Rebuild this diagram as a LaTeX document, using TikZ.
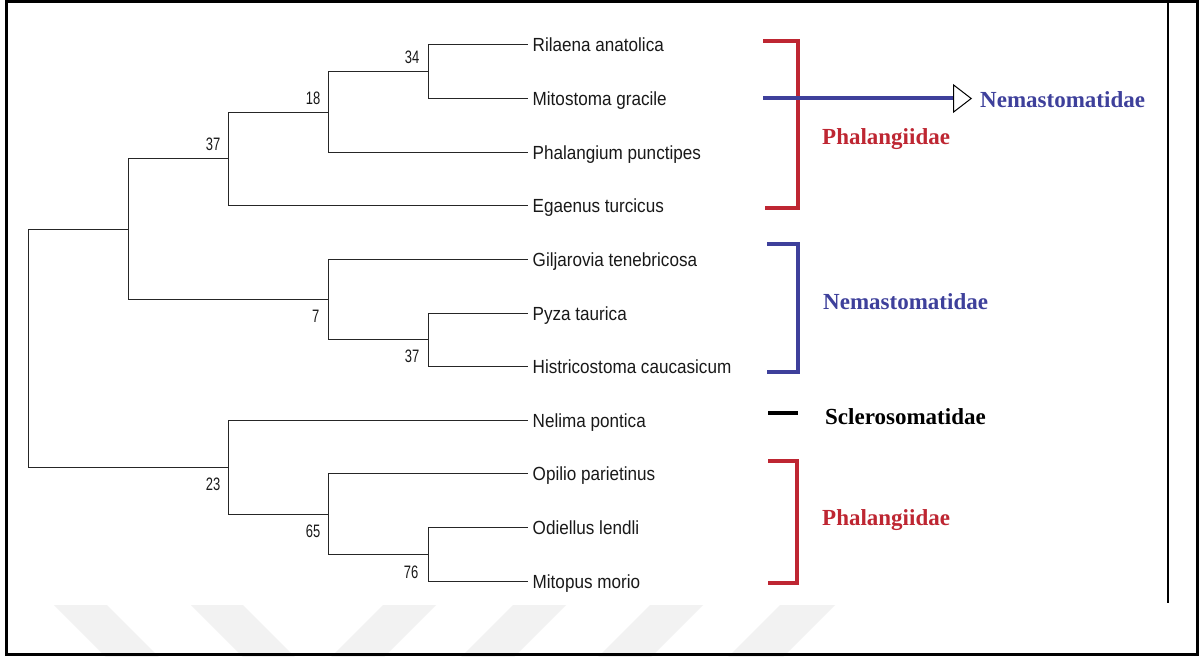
\documentclass[tikz,border=0pt]{standalone}
\usepackage{fontspec}
\setmainfont{Liberation Serif}
\newfontfamily\leaffont[FakeStretch=0.9]{Liberation Sans}
\newfontfamily\numfont[FakeStretch=0.72]{Liberation Sans}
\usetikzlibrary{arrows.meta}
\definecolor{famred}{RGB}{190,38,50}
\definecolor{famblue}{RGB}{62,64,155}
\definecolor{wmgray}{RGB}{242,242,242}
\begin{document}
\begin{tikzpicture}[x=1bp,y=-1bp,
  branch/.style={line width=1.6bp, draw=black!85},
  leaf/.style={anchor=west, inner xsep=4.5bp, inner ysep=0pt, text height=13.6bp, text depth=0pt,
    font=\leaffont\fontsize{19bp}{22bp}\selectfont, text=black!90},
  numlab/.style={font=\numfont\fontsize{18bp}{20bp}\selectfont, inner sep=0pt,
    text height=12.9bp, text depth=0pt, text=black!90},
  above left lab/.style={numlab, anchor=south east},
  below left lab/.style={numlab, anchor=north east},
  fam/.style={font=\bfseries\fontsize{23bp}{26bp}\selectfont, inner sep=0pt, anchor=base west},
  bracket/.style={line width=4bp},
  wm/.style={fill=wmgray}
]
\useasboundingbox (0,0) rectangle (1204,657);
\fill[white] (0,0) rectangle (1204,657);

% watermark stripes
\fill[wm] (54,605) -- (107,605) -- (159,657) -- (106,657) -- cycle;
\fill[wm] (191,605) -- (243,605) -- (295,657) -- (243,657) -- cycle;
\fill[wm] (383,605) -- (436,605) -- (384,657) -- (331,657) -- cycle;
\fill[wm] (513,605) -- (566,605) -- (514,657) -- (461,657) -- cycle;
\fill[wm] (650,605) -- (703,605) -- (651,657) -- (598,657) -- cycle;
\fill[wm] (780,605) -- (835,605) -- (783,657) -- (728,657) -- cycle;

% frame
\draw[line width=3bp] (6,1.5) rectangle (1197.5,654.5);
\draw[line width=1.5bp] (1168,1.5) -- (1168,603);

% leaves
\node[leaf] (l0)  at (528,44.5)  {Rilaena anatolica};
\node[leaf] (l1)  at (528,98.5)  {Mitostoma gracile};
\node[leaf] (l2)  at (528,152.5) {Phalangium punctipes};
\node[leaf] (l3)  at (528,205.5) {Egaenus turcicus};
\node[leaf] (l4)  at (528,259.5) {Giljarovia tenebricosa};
\node[leaf] (l5)  at (528,313.5) {Pyza taurica};
\node[leaf] (l6)  at (528,366.5) {Histricostoma caucasicum};
\node[leaf] (l7)  at (528,420.5) {Nelima pontica};
\node[leaf] (l8)  at (528,473.5) {Opilio parietinus};
\node[leaf] (l9)  at (528,527.5) {Odiellus lendli};
\node[leaf] (l10) at (528,581.5) {Mitopus morio};

% internal nodes
\coordinate (n34)  at (428.5,71.5);
\coordinate (n18)  at (328.5,112.5);
\coordinate (n37a) at (228.5,158.5);
\coordinate (n37b) at (428.5,339.5);
\coordinate (n7)   at (328.5,299.5);
\coordinate (nA)   at (128.5,229.5);
\coordinate (n76)  at (428.5,554.5);
\coordinate (n65)  at (328.5,514.5);
\coordinate (n23)  at (228.5,467.5);
\coordinate (root) at (28.5,348.5);

% branches
\draw[branch] (n34) |- (l0.west);
\draw[branch] (n34) |- (l1.west);
\draw[branch] (n18) |- (n34);
\draw[branch] (n18) |- (l2.west);
\draw[branch] (n37a) |- (n18);
\draw[branch] (n37a) |- (l3.west);
\draw[branch] (n37b) |- (l5.west);
\draw[branch] (n37b) |- (l6.west);
\draw[branch] (n7) |- (l4.west);
\draw[branch] (n7) |- (n37b);
\draw[branch] (nA) |- (n37a);
\draw[branch] (nA) |- (n7);
\draw[branch] (n76) |- (l9.west);
\draw[branch] (n76) |- (l10.west);
\draw[branch] (n65) |- (l8.west);
\draw[branch] (n65) |- (n76);
\draw[branch] (n23) |- (l7.west);
\draw[branch] (n23) |- (n65);
\draw[branch] (root) |- (nA);
\draw[branch] (root) |- (n23);

% support values
\node[above left lab] (b34)  at ([shift={(-9,-7.5)}]n34)  {34};
\node[above left lab] (b18)  at ([shift={(-8,-7.5)}]n18)  {18};
\node[above left lab] (b37a) at ([shift={(-8,-7.5)}]n37a) {37};
\node[below left lab] (b7)   at ([shift={(-9,9.5)}]n7)    {7};
\node[below left lab] (b37b) at ([shift={(-9,9.5)}]n37b)  {37};
\node[below left lab] (b23)  at ([shift={(-8,10)}]n23)    {23};
\node[below left lab] (b65)  at ([shift={(-8,9.5)}]n65)   {65};
\node[below left lab] (b76)  at ([shift={(-10,11)}]n76)   {76};

% family brackets
\draw[bracket, famred]  (763,41) -- (798,41) -- (798,208.3) -- (765,208.3);
\draw[bracket, famblue] (767,244) -- (798,244) -- (798,372) -- (767,372);
\draw[bracket, black]   (768,413) -- (798,413);
\draw[bracket, famred]  (768,461) -- (797,461) -- (797,583) -- (768,583);

% arrow to Nemastomatidae
\coordinate (arrS) at (763,98.5);
\coordinate (arrE) at (972,98.5);
\draw[famblue, line width=4bp,
  -{Triangle[open, length=19bp, width=29bp, color=black, fill=white, line width=1bp]}]
  (arrS) -- (arrE);

% family labels
\node[fam, text=famblue] (gNem1) at (980,108)   {Nemastomatidae};
\node[fam, text=famred]  (gPha1) at (822,144.5) {Phalangiidae};
\node[fam, text=famblue] (gNem2) at (823,309)   {Nemastomatidae};
\node[fam, text=black]   (gScl)  at (825,424)   {Sclerosomatidae};
\node[fam, text=famred]  (gPha2) at (822,525)   {Phalangiidae};
\end{tikzpicture}
\end{document}
